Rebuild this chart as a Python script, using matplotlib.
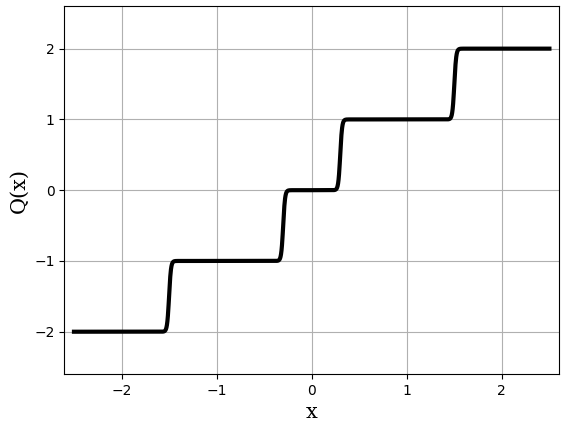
import numpy as np
import matplotlib
matplotlib.use("Agg")
import matplotlib.pyplot as plt

# step thresholds and quantization levels
thresholds = [-1.5, -0.3, 0.3, 1.5]
levels = [-2, -1, 0, 1, 2]
sharpness = 50.0
x_range = [-2.5, 2.5]

x = np.linspace(x_range[0], x_range[1], 2001)
q = np.full_like(x, float(levels[0]))
for t, lo, hi in zip(thresholds, levels[:-1], levels[1:]):
    q += (hi - lo) * 0.5 * (1 + np.tanh(sharpness * (x - t)))

fig = plt.figure(figsize=(5.68, 4.24), dpi=100)
ax = fig.add_axes([0.1135, 0.1175, 0.8705, 0.8679])
ax.plot(x, q, color="black", lw=3)
ax.set_xlim(-2.6, 2.6)
ax.set_ylim(-2.6, 2.6)
ax.set_xticks([-2, -1, 0, 1, 2])
ax.set_yticks([-2, -1, 0, 1, 2])
ax.grid(True)
ax.set_axisbelow(True)
ax.set_xlabel("x", family="DejaVu Serif", fontsize=15)
ax.set_ylabel("Q(x)", family="DejaVu Serif", fontsize=15)
fig.savefig("out.png", dpi=100)
